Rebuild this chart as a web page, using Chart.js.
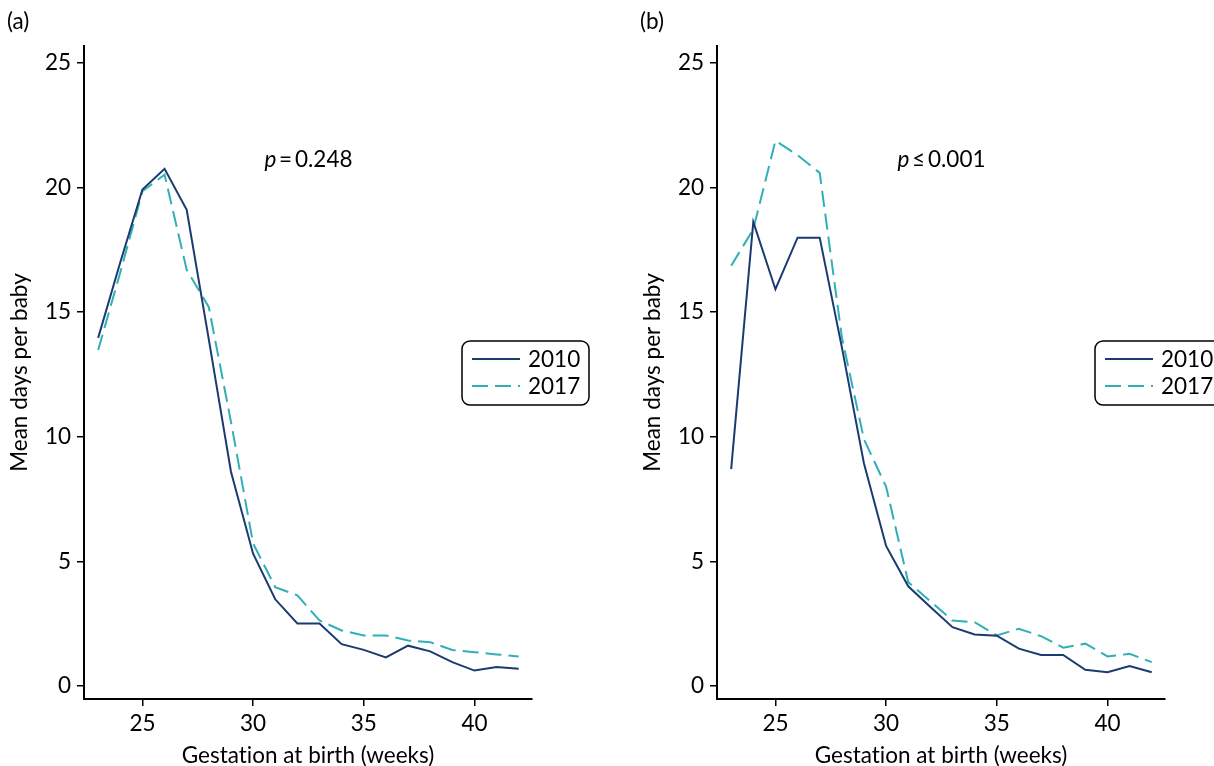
<!DOCTYPE html>
<html>
<head>
<meta charset="utf-8">
<script src="https://cdn.jsdelivr.net/npm/chart.js@4.4.1/dist/chart.umd.min.js"></script>
<style>
  html, body { margin: 0; padding: 0; background: #fff; overflow: hidden; }
  body { width: 1214px; height: 766px; position: relative; }
  canvas { position: absolute; top: 0; }
  #panelA { left: 0; }
  #panelB { left: 633px; }
</style>
</head>
<body>
<canvas id="panelA" width="607" height="766"></canvas>
<canvas id="panelB" width="607" height="766"></canvas>
<script>
// gestation weeks
const weeks = [23, 24, 25, 26, 27, 28, 29, 30, 31, 32, 33, 34, 35, 36, 37, 38, 39, 40, 41, 42];

// panel (a)
const a2010 = [13.97, 17.0, 19.92, 20.75, 19.11, 13.9, 8.6, 5.31, 3.48, 2.51, 2.51, 1.68, 1.45, 1.15, 1.62, 1.39, 0.96, 0.62, 0.76, 0.69];
const a2017 = [13.48, 16.6, 19.85, 20.52, 16.7, 15.2, 10.6, 5.72, 3.97, 3.64, 2.63, 2.23, 2.03, 2.03, 1.83, 1.76, 1.45, 1.36, 1.27, 1.19];

// panel (b)
const b2010 = [8.7, 18.62, 15.92, 17.99, 17.99, 13.6, 8.93, 5.62, 4.0, 3.17, 2.36, 2.07, 2.02, 1.5, 1.25, 1.25, 0.65, 0.55, 0.8, 0.55];
const b2017 = [16.86, 18.33, 21.88, 21.3, 20.59, 14.0, 9.9, 8.0, 4.17, 3.4, 2.63, 2.56, 2.03, 2.3, 2.0, 1.54, 1.7, 1.19, 1.29, 0.96];

const seriesNames = ["2010", "2017"];
const xTicks = [25, 30, 35, 40];
const yTicks = [0, 5, 10, 15, 20, 25];

const NAVY = "#1b3b70";
const TEAL = "#2fb0b6";
const FONT = "Lato, 'Noto Sans', sans-serif";
const FS = 22.5;

function toPoints(vals) {
  return weeks.map((w, i) => ({ x: w, y: vals[i] }));
}

// legend box + p-value note + panel letter
const decorations = {
  id: "decorations",
  afterDraw(chart, args, opts) {
    const ctx = chart.ctx;
    const area = chart.chartArea;
    ctx.save();

    // panel letter
    ctx.fillStyle = "#000";
    ctx.font = FS + "px " + FONT;
    ctx.textBaseline = "middle";
    ctx.textAlign = "left";
    ctx.fillText(opts.letter, 7, 22);

    // p value, italic p
    const px = chart.scales.x.getPixelForValue(32.5);
    const py = chart.scales.y.getPixelForValue(21.1);
    ctx.font = "italic " + FS + "px " + FONT;
    const wP = ctx.measureText("p").width;
    ctx.font = FS + "px " + FONT;
    const rest = "\u2009" + opts.rel + "\u2009" + opts.pValue;
    const wR = ctx.measureText(rest).width;
    let x0 = px - (wP + wR) / 2;
    ctx.font = "italic " + FS + "px " + FONT;
    ctx.fillText("p", x0, py);
    ctx.font = FS + "px " + FONT;
    ctx.fillText(rest, x0 + wP, py);

    // legend
    const bx = area.left + 378, by = 341, bw = 127, bh = 64, r = 8;
    ctx.beginPath();
    ctx.roundRect(bx, by, bw, bh, r);
    ctx.fillStyle = "#fff";
    ctx.fill();
    ctx.lineWidth = 1.5;
    ctx.strokeStyle = "#000";
    ctx.stroke();
    chart.data.datasets.forEach((ds, i) => {
      const ly = by + 18 + i * 27;
      ctx.beginPath();
      ctx.setLineDash(ds.borderDash || []);
      ctx.lineWidth = ds.borderWidth;
      ctx.strokeStyle = ds.borderColor;
      ctx.moveTo(bx + 10, ly);
      ctx.lineTo(bx + 58, ly);
      ctx.stroke();
      ctx.setLineDash([]);
      ctx.fillStyle = "#000";
      ctx.font = FS + "px " + FONT;
      ctx.textAlign = "left";
      ctx.fillText(ds.label, bx + 66, ly + 1);
    });
    ctx.restore();
  }
};

function makePanel(id, letter, rel, pValue, s2010, s2017) {
  const axisCommon = {
    grid: { display: true, drawOnChartArea: false, drawTicks: true, tickLength: 7, color: "#000", lineWidth: 1.5 },
    border: { display: true, color: "#000", width: 2 },
  };
  return new Chart(document.getElementById(id), {
    type: "line",
    data: {
      datasets: [
        {
          label: seriesNames[0],
          data: toPoints(s2010),
          borderColor: NAVY,
          borderWidth: 2,
          pointRadius: 0,
          tension: 0,
          fill: false,
        },
        {
          label: seriesNames[1],
          data: toPoints(s2017),
          borderColor: TEAL,
          borderWidth: 2,
          borderDash: [16, 7],
          pointRadius: 0,
          tension: 0,
          fill: false,
        },
      ],
    },
    options: {
      responsive: false,
      animation: false,
      devicePixelRatio: 1,
      layout: { padding: { top: 46, right: 75, bottom: 0, left: 10 } },
      plugins: {
        legend: { display: false },
        tooltip: { enabled: false },
        decorations: { letter: letter, rel: rel, pValue: pValue },
      },
      scales: {
        x: {
          ...axisCommon,
          type: "linear",
          min: 22.36,
          max: 42.6,
          afterBuildTicks: (s) => { s.ticks = xTicks.map((v) => ({ value: v })); },
          afterFit: (s) => { s.height = 67; },
          ticks: { color: "#000", font: { family: FONT, size: FS }, padding: 4, maxRotation: 0 },
          // zero-width non-joiner keeps the "ti" from turning into a ligature
          title: { display: true, text: "Gestat\u200Cion at birth (weeks)", color: "#000", font: { family: FONT, size: FS, lineHeight: 0.9 }, padding: 0 },
        },
        y: {
          ...axisCommon,
          type: "linear",
          min: -0.52,
          max: 25.68,
          afterBuildTicks: (s) => { s.ticks = yTicks.map((v) => ({ value: v })); },
          afterFit: (s) => { s.width = 74; },
          ticks: { color: "#000", font: { family: FONT, size: FS }, padding: 6 },
          title: { display: true, text: "Mean days per baby", color: "#000", font: { family: FONT, size: FS, lineHeight: 0.9 }, padding: 0 },
        },
      },
    },
    plugins: [decorations],
  });
}

makePanel("panelA", "(a)", "=", "0.248", a2010, a2017);
makePanel("panelB", "(b)", "\u2264", "0.001", b2010, b2017);
</script>
</body>
</html>
